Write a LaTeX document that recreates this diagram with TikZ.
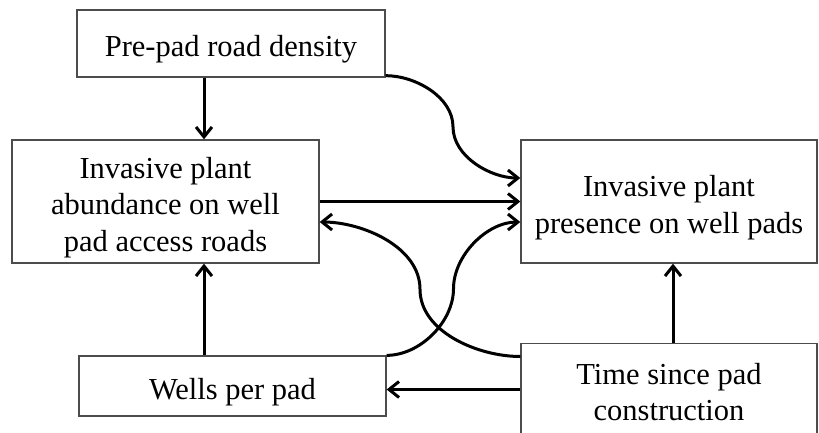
\documentclass[tikz,border=0pt]{standalone}
\usepackage{fontspec}
\setmainfont{Liberation Serif}
\usetikzlibrary{arrows.meta,calc}
\begin{document}
\begin{tikzpicture}[x=1pt,y=-1pt,
  box/.style={draw=black!70, line width=1.3pt, inner sep=0pt},
  txt/.style={align=center, inner sep=0pt, font=\fontsize{30.5}{36.6}\selectfont},
  arr/.style={line width=3pt, -{Straight Barb[length=10pt,width=16pt]}},
  flow/.style={line width=3pt, -{Straight Barb[length=10pt,width=16pt]}, looseness=0.9}]
\useasboundingbox (0,0) rectangle (819,432);
\node[box, minimum width=308pt, minimum height=67pt,
  label={[txt,yshift=-6pt]center:Pre-pad road density}] (pre) at (231,43.5) {};
\node[box, minimum width=307pt, minimum height=123pt,
  label={[txt,yshift=-6pt]center:{Invasive plant\\abundance on well\\pad access roads}}] (abund) at (165.5,201.5) {};
\node[box, minimum width=296pt, minimum height=123pt,
  label={[txt,yshift=-6pt]center:{Invasive plant\\presence on well pads}}] (pres) at (669,201.5) {};
\node[box, minimum width=307pt, minimum height=60pt,
  label={[txt,yshift=-6pt]center:Wells per pad}] (wells) at (232.5,386) {};
\node[box, minimum width=296pt, minimum height=97pt,
  label={[txt]center:{Time since pad\\construction}}] (time) at (669,392) {};
\coordinate (ax) at (204,0);
\coordinate (bx) at (673,0);
% straight connectors
\draw[arr] (pre.south -| ax) -- (abund.north -| ax);
\draw[arr] (wells.north -| ax) -- (abund.south -| ax);
\draw[arr] (abund.east) -- (abund.east -| pres.west);
\draw[arr] (time.north -| bx) -- (pres.south -| bx);
\draw[arr] ([yshift=2.5pt]time.west) -- ([yshift=2.5pt]time.west -| wells.east);
% curved connectors
\coordinate (s6) at ([yshift=2pt]pre.south east);
\coordinate (e6) at ([yshift=23.5pt]pres.west);
\coordinate (m6) at ($(s6)!0.5!(e6)$);
\draw[flow] (s6) to[out=0,in=90] (m6) to[out=-90,in=180] (e6);
\coordinate (s7) at ([yshift=35.5pt]time.west);
\coordinate (e7) at ([yshift=-20.5pt]abund.east);
\coordinate (m7) at ($(s7)!0.5!(e7)$);
\draw[flow] (s7) to[out=180,in=-90] (m7) to[out=90,in=0] (e7);
\coordinate (s8) at (wells.north east);
\coordinate (e8) at ([yshift=-20.5pt]pres.west);
\coordinate (m8) at ($(s8)!0.5!(e8)$);
\draw[flow] (s8) to[out=0,in=-90] (m8) to[out=90,in=180] (e8);
\end{tikzpicture}
\end{document}
